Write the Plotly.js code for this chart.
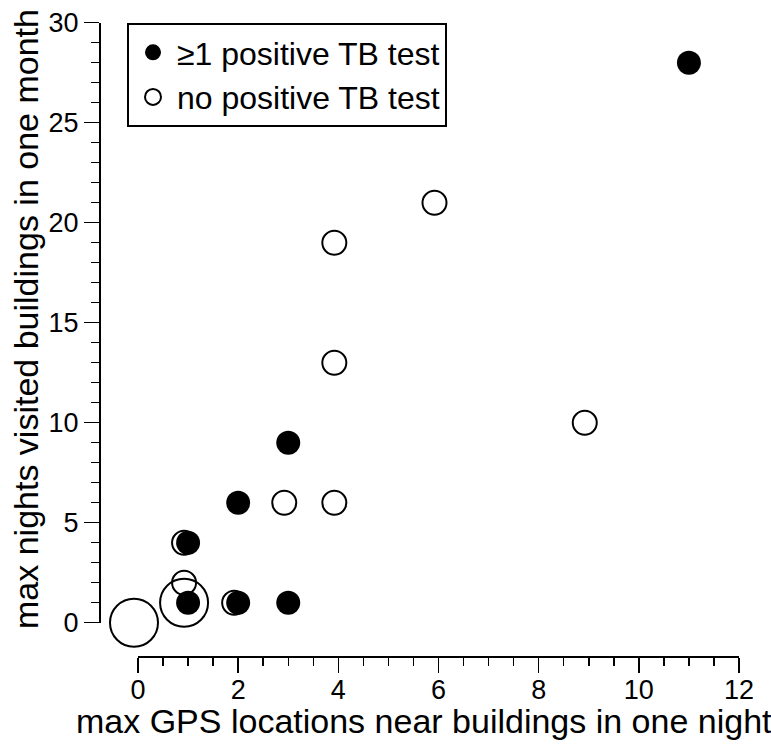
<!DOCTYPE html>
<html>
<head>
<meta charset="utf-8">
<script src="https://cdn.plot.ly/plotly-3.0.1.min.js"></script>
<style>html,body{margin:0;padding:0;background:#fff;}</style>
</head>
<body>
<div id="chart" style="width:771px;height:744px;"></div>
<script>
// Animals with at least one positive TB test
const posX = [1, 1, 2, 2, 3, 3, 11];
const posY = [1, 4, 1, 6, 1, 9, 28];
const posCount = [1, 1, 1, 1, 1, 1, 1];
// Animals with no positive TB test
const negX = [0, 1, 1, 1, 2, 3, 4, 4, 4, 6, 9];
const negY = [0, 1, 2, 4, 1, 6, 6, 13, 19, 21, 10];
const negCount = [4, 4, 1, 1, 1, 1, 1, 1, 1, 1, 1];

const xTickVals = [0, 2, 4, 6, 8, 10, 12];
const yTickVals = [0, 5, 10, 15, 20, 25, 30];

const legendPos = "\u22651 positive TB test";
const legendNeg = "no positive TB test";
const xTitle = "max GPS locations near buildings in one night";
const yTitle = "max nights visited buildings in one month";

const W = 771, H = 744;
const px = v => v / W;
const py = v => 1 - v / H;
const FONT = "Liberation Sans, Arial, Helvetica, sans-serif";
const BASE_PX = 24;               // marker diameter for one animal
const sizeOf = c => BASE_PX * Math.sqrt(c); // area proportional to count

// x scale: 0 -> 138px, 12 -> 739px; open circles drawn with a slight left jitter
const x0px = 138, x12px = 739;
const unitPx = (x12px - x0px) / 12;
const jitter = 0.08;

const traces = [
  {
    type: "scatter", mode: "markers", name: legendNeg,
    x: negX, y: negY, xaxis: "x2", yaxis: "y",
    cliponaxis: false, legendrank: 2,
    marker: { symbol: "circle-open", size: negCount.map(sizeOf), opacity: 1,
              color: "black", line: { width: 2, color: "black" } },
    hoverinfo: "x+y"
  },
  {
    type: "scatter", mode: "markers", name: legendPos,
    x: posX, y: posY, xaxis: "x", yaxis: "y",
    cliponaxis: false, legendrank: 1,
    marker: { symbol: "circle", size: posCount.map(sizeOf), opacity: 1,
              color: "black", line: { width: 0 } },
    hoverinfo: "x+y"
  }
];

const xDomain = [px(x0px), px(x12px)];
const yDomain = [py(622.7), py(22.7)];

const layout = {
  width: W, height: H,
  margin: { l: 0, r: 0, t: 0, b: 0, pad: 0 },
  paper_bgcolor: "white", plot_bgcolor: "rgba(0,0,0,0)",
  font: { family: FONT, color: "black", size: 27 },
  showlegend: true,
  legend: {
    x: px(127), y: py(23), xanchor: "left", yanchor: "top",
    bordercolor: "black", borderwidth: 2, bgcolor: "white",
    font: { family: FONT, size: 32, color: "black" },
    itemsizing: "trace", itemwidth: 38, tracegroupgap: 0
  },
  xaxis: {
    domain: xDomain, anchor: "free", position: py(657),
    range: [0, 12], autorange: false, fixedrange: true,
    tickvals: xTickVals, ticks: "outside", ticklen: 15, tickwidth: 1.5, tickcolor: "black",
    ticklabelstandoff: -6,
    showline: true, linewidth: 2, linecolor: "black",
    showgrid: false, zeroline: false, automargin: false,
    tickfont: { family: FONT, size: 27, color: "black" },
    minor: { dtick: 0.5, tick0: 0, ticks: "outside", ticklen: 8, tickwidth: 1.5, tickcolor: "black", showgrid: false }
  },
  // invisible companion axis, same scale as xaxis, shifted by the jitter and extended one unit left
  xaxis2: {
    domain: [px(x0px - unitPx), px(x12px)], anchor: "y",
    range: [-1 + jitter, 12 + jitter], autorange: false, visible: false, fixedrange: true,
    showgrid: false, zeroline: false
  },
  yaxis: {
    domain: yDomain, anchor: "free", position: px(100),
    range: [0, 30], autorange: false, fixedrange: true,
    tickvals: yTickVals, ticks: "outside", ticklen: 15, tickwidth: 1.5, tickcolor: "black",
    showline: true, linewidth: 2, linecolor: "black",
    showgrid: false, zeroline: false, automargin: false,
    tickfont: { family: FONT, size: 27, color: "black" },
    minor: { dtick: 1, tick0: 0, ticks: "outside", ticklen: 8, tickwidth: 1.5, tickcolor: "black", showgrid: false }
  },
  annotations: [
    { text: xTitle, xref: "paper", yref: "paper", x: px(424), y: py(741),
      xanchor: "center", yanchor: "bottom", showarrow: false, borderpad: 0,
      font: { family: FONT, size: 34, color: "black" } },
    { text: yTitle, xref: "paper", yref: "paper", x: px(26), y: py(319),
      xanchor: "center", yanchor: "middle", showarrow: false, textangle: -90, borderpad: 0,
      font: { family: FONT, size: 34, color: "black" } }
  ]
};

Plotly.newPlot("chart", traces, layout, { displayModeBar: false, staticPlot: true });
</script>
</body>
</html>
